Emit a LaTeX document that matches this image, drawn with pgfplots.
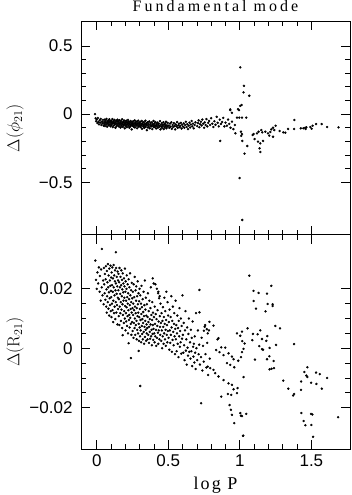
\documentclass[border=0pt]{standalone}
\usepackage{pgfplots}
\pgfplotsset{compat=1.18}
\usepackage{pgfplotstable}
\usepackage[no-math]{fontspec}
\setmainfont{Liberation Sans}
\newfontfamily\htitle{Liberation Serif}[LetterSpace=19]
\newfontfamily\hlab{Liberation Serif}[LetterSpace=12]

% top panel: Delta(phi21) against log P
\pgfplotstableread{
x y
-0.012 0.000
-0.008 -0.030
-0.004 -0.052
0.000 -0.040
0.004 -0.065
0.008 -0.028
0.012 -0.058
0.016 -0.075
0.020 -0.045
0.024 -0.062
0.028 -0.035
0.032 -0.080
0.036 -0.055
0.040 -0.068
0.044 -0.042
0.048 -0.085
0.051 -0.058
0.053 -0.072
0.056 -0.040
0.058 -0.088
0.061 -0.062
0.063 -0.050
0.066 -0.078
0.068 -0.035
0.071 -0.066
0.073 -0.092
0.076 -0.055
0.078 -0.070
0.081 -0.045
0.083 -0.082
0.086 -0.060
0.088 -0.038
0.091 -0.075
0.093 -0.052
0.096 -0.090
0.098 -0.064
0.101 -0.048
0.103 -0.080
0.105 -0.058
0.108 -0.070
0.110 -0.036
0.112 -0.095
0.115 -0.062
0.117 -0.052
0.119 -0.084
0.122 -0.068
0.124 -0.042
0.126 -0.076
0.129 -0.058
0.131 -0.100
0.133 -0.064
0.136 -0.048
0.138 -0.088
0.140 -0.072
0.143 -0.055
0.145 -0.040
0.147 -0.080
0.150 -0.066
0.152 -0.052
0.154 -0.090
0.156 -0.070
0.159 -0.044
0.161 -0.078
0.163 -0.060
0.166 -0.098
0.168 -0.066
0.170 -0.050
0.173 -0.084
0.175 -0.072
0.177 -0.038
0.180 -0.062
0.182 -0.094
0.184 -0.076
0.187 -0.056
0.189 -0.082
0.191 -0.046
0.194 -0.068
0.196 -0.104
0.198 -0.074
0.200 -0.058
0.202 -0.088
0.204 -0.064
0.207 -0.048
0.209 -0.078
0.211 -0.096
0.214 -0.060
0.216 -0.072
0.218 -0.042
0.221 -0.086
0.223 -0.068
0.225 -0.054
0.228 -0.100
0.230 -0.076
0.232 -0.062
0.235 -0.090
0.237 -0.050
0.239 -0.080
0.242 -0.070
0.244 -0.112
0.246 -0.058
0.248 -0.084
0.250 -0.066
0.252 -0.074
0.255 -0.052
0.257 -0.092
0.260 -0.066
0.262 -0.080
0.265 -0.046
0.267 -0.098
0.270 -0.070
0.272 -0.060
0.275 -0.086
0.277 -0.076
0.280 -0.054
0.282 -0.104
0.285 -0.068
0.287 -0.082
0.290 -0.048
0.292 -0.092
0.295 -0.072
0.297 -0.062
0.300 -0.088
0.302 -0.078
0.305 -0.056
0.307 -0.096
0.310 -0.070
0.312 -0.084
0.315 -0.050
0.317 -0.108
0.320 -0.074
0.322 -0.064
0.325 -0.090
0.327 -0.080
0.330 -0.058
0.332 -0.100
0.335 -0.072
0.337 -0.086
0.340 -0.048
0.342 -0.094
0.345 -0.076
0.347 -0.066
0.350 -0.118
0.352 -0.082
0.355 -0.060
0.358 -0.098
0.361 -0.072
0.364 -0.088
0.367 -0.054
0.370 -0.104
0.373 -0.078
0.376 -0.066
0.379 -0.092
0.382 -0.084
0.385 -0.060
0.388 -0.110
0.391 -0.074
0.394 -0.088
0.397 -0.050
0.399 -0.096
0.400 -0.080
0.403 -0.068
0.406 -0.094
0.409 -0.058
0.412 -0.084
0.415 -0.106
0.418 -0.074
0.421 -0.090
0.424 -0.062
0.427 -0.100
0.430 -0.080
0.433 -0.070
0.436 -0.094
0.439 -0.086
0.442 -0.052
0.445 -0.112
0.448 -0.078
0.451 -0.092
0.454 -0.066
0.457 -0.102
0.460 -0.080
0.463 -0.088
0.466 -0.060
0.469 -0.110
0.472 -0.076
0.475 -0.096
0.478 -0.070
0.481 -0.086
0.484 -0.056
0.487 -0.104
0.490 -0.082
0.493 -0.092
0.496 -0.064
0.503 -0.084
0.507 -0.100
0.512 -0.070
0.516 -0.092
0.521 -0.060
0.525 -0.108
0.530 -0.080
0.534 -0.094
0.539 -0.066
0.543 -0.088
0.548 -0.112
0.552 -0.076
0.557 -0.090
0.561 -0.058
0.566 -0.100
0.570 -0.082
0.575 -0.070
0.579 -0.096
0.584 -0.086
0.588 -0.064
0.593 -0.106
0.597 -0.078
0.603 -0.092
0.608 -0.068
0.613 -0.100
0.618 -0.080
0.623 -0.056
0.628 -0.094
0.633 -0.074
0.638 -0.110
0.643 -0.084
0.648 -0.062
0.653 -0.098
0.658 -0.076
0.663 -0.050
0.668 -0.090
0.673 -0.070
0.678 -0.104
0.684 -0.080
0.690 -0.060
0.702 -0.088
0.707 -0.066
0.712 -0.046
0.717 -0.096
0.722 -0.074
0.728 -0.056
0.733 -0.084
0.738 -0.040
0.744 -0.070
0.750 -0.100
0.755 -0.060
0.761 -0.080
0.767 -0.036
0.773 -0.090
0.779 -0.064
0.785 -0.050
0.792 -0.080
0.800 -0.030
0.808 -0.070
0.815 -0.095
0.822 -0.052
0.830 -0.078
0.838 -0.020
0.845 -0.064
0.853 -0.090
0.860 -0.040
0.868 -0.072
0.876 -0.058
0.884 -0.028
0.892 -0.090
0.900 -0.062
0.910 -0.085
0.918 -0.040
0.926 -0.072
0.935 -0.100
0.945 -0.055
0.955 -0.110
0.965 -0.080
0.863 -0.197
0.933 0.035
0.945 0.010
0.933 0.030
0.969 -0.141
1.010 -0.160
0.987 0.037
0.994 0.030
1.003 0.343
1.029 0.208
1.026 0.160
1.066 0.135
1.012 0.067
1.003 0.060
0.980 -0.026
0.996 -0.026
1.015 -0.026
1.045 -0.026
1.008 -0.129
1.015 -0.146
1.017 -0.197
1.052 -0.234
1.033 -0.290
0.998 -0.469
1.017 -0.777
1.089 -0.153
1.103 -0.183
1.096 -0.146
1.120 -0.141
1.131 -0.129
1.150 -0.117
1.157 -0.134
1.178 -0.129
1.197 -0.141
1.213 -0.131
1.206 -0.158
1.220 -0.112
1.232 -0.100
1.241 -0.117
1.250 -0.085
1.232 -0.166
1.127 -0.202
1.143 -0.215
1.162 -0.197
1.138 -0.251
1.143 -0.278
1.278 -0.124
1.304 -0.134
1.318 -0.136
1.337 -0.109
1.381 -0.043
1.379 -0.109
1.426 -0.104
1.444 -0.104
1.456 -0.100
1.460 -0.109
1.465 -0.097
1.493 -0.095
1.502 -0.107
1.509 -0.085
1.533 -0.073
1.572 -0.073
1.610 -0.095
1.690 -0.097
}\phidata

% bottom panel: Delta(R21) against log P
\pgfplotstableread{
x y
-0.010 0.0295
-0.005 0.0230
0.000 0.0200
0.005 0.0255
0.010 0.0218
0.015 0.0272
0.020 0.0190
0.022 0.0243
0.028 0.0160
0.030 0.0265
0.035 0.0205
0.036 0.0334
0.040 0.0178
0.045 0.0228
0.048 0.0148
0.050 0.0270
0.052 0.0215
0.055 0.0185
0.057 0.0250
0.060 0.0163
0.062 0.0232
0.064 0.0276
0.066 0.0140
0.068 0.0198
0.070 0.0120
0.071 0.0260
0.073 0.0175
0.075 0.0222
0.077 0.0155
0.078 0.0283
0.080 0.0205
0.082 0.0133
0.083 0.0245
0.085 0.0188
0.087 0.0110
0.088 0.0268
0.090 0.0168
0.092 0.0228
0.093 0.0145
0.095 0.0210
0.096 0.0278
0.098 0.0125
0.099 0.0193
0.100 0.0238
0.101 0.0172
0.103 0.0105
0.104 0.0255
0.106 0.0150
0.107 0.0212
0.109 0.0272
0.110 0.0128
0.112 0.0190
0.113 0.0235
0.115 0.0088
0.116 0.0160
0.118 0.0280
0.119 0.0205
0.121 0.0118
0.122 0.0245
0.124 0.0178
0.125 0.0140
0.127 0.0225
0.128 0.0262
0.130 0.0098
0.131 0.0195
0.133 0.0155
0.134 0.0323
0.134 0.0218
0.136 0.0270
0.137 0.0120
0.139 0.0183
0.140 0.0240
0.142 0.0145
0.143 0.0208
0.145 0.0080
0.146 0.0258
0.148 0.0170
0.149 0.0228
0.150 0.0132
0.151 0.0195
0.152 0.0250
0.154 0.0108
0.155 0.0165
0.157 0.0222
0.158 0.0078
0.159 0.0270
0.161 0.0140
0.162 0.0205
0.164 0.0183
0.165 0.0118
0.166 0.0240
0.168 0.0155
0.169 0.0092
0.171 0.0212
0.172 0.0262
0.173 0.0130
0.175 0.0175
0.176 0.0230
0.178 0.0068
0.179 0.0198
0.180 0.0148
0.181 0.0044
0.182 0.0252
0.183 0.0112
0.185 0.0188
0.186 0.0218
0.187 0.0160
0.189 0.0085
0.190 0.0235
0.192 0.0125
0.193 0.0170
0.194 0.0208
0.196 0.0100
0.197 0.0268
0.199 0.0142
0.200 0.0190
0.201 0.0060
0.202 0.0225
0.204 0.0118
0.205 0.0160
0.206 0.0090
0.208 0.0200
0.209 0.0138
0.210 0.0245
0.212 0.0075
0.213 0.0172
0.215 0.0108
0.216 0.0215
0.217 0.0150
0.219 0.0050
0.220 0.0185
0.221 0.0128
0.223 0.0017
0.223 0.0232
0.224 0.0095
0.226 0.0165
0.227 0.0112
0.228 0.0205
0.230 0.0070
0.231 0.0145
0.233 0.0252
0.234 0.0102
0.235 0.0178
0.237 0.0132
0.238 0.0082
0.239 -0.0033
0.240 0.0195
0.241 0.0155
0.242 0.0045
0.244 0.0120
0.245 0.0220
0.247 0.0088
0.248 0.0168
0.250 0.0135
0.251 0.0058
0.253 0.0190
0.254 0.0112
0.255 0.0150
0.257 0.0035
0.258 0.0215
0.260 0.0085
0.261 0.0128
0.262 0.0172
0.264 0.0068
0.265 0.0240
0.266 0.0100
0.268 0.0140
0.269 0.0045
0.271 0.0195
0.272 0.0118
0.273 0.0078
0.275 0.0160
0.276 0.0208
0.278 0.0092
0.279 0.0030
0.280 0.0135
0.282 0.0175
0.283 0.0062
0.285 0.0108
0.286 0.0225
0.287 0.0148
0.289 0.0050
0.290 0.0120
0.292 0.0185
0.293 -0.0009
0.293 0.0082
0.295 0.0025
0.296 0.0158
0.297 0.0105
0.299 0.0200
0.300 0.0070
0.301 0.0132
0.303 0.0040
0.304 -0.0127
0.304 0.0178
0.306 0.0095
0.307 0.0060
0.309 0.0150
0.310 0.0020
0.312 0.0115
0.313 0.0210
0.315 0.0075
0.316 0.0138
0.318 0.0048
0.319 0.0098
0.321 0.0165
0.322 0.0030
0.324 0.0085
0.325 0.0122
0.327 0.0190
0.328 0.0055
0.330 0.0108
0.331 0.0015
0.333 0.0145
0.334 0.0072
0.336 0.0228
0.337 0.0038
0.339 0.0092
0.340 0.0130
0.342 0.0062
0.343 0.0170
0.345 0.0025
0.346 0.0110
0.348 0.0080
0.349 0.0050
0.351 0.0148
0.353 0.0068
0.355 0.0030
0.356 0.0105
0.358 0.0185
0.360 0.0045
0.361 0.0088
0.363 0.0125
0.365 0.0018
0.366 0.0072
0.368 0.0160
0.370 0.0055
0.371 0.0098
0.373 0.0032
0.375 0.0135
0.376 0.0080
0.378 0.0205
0.380 0.0040
0.382 0.0112
0.383 0.0062
0.385 0.0010
0.387 0.0095
0.388 0.0155
0.390 0.0048
0.391 0.0235
0.392 0.0078
0.393 0.0120
0.395 0.0028
0.397 0.0065
0.398 0.0218
0.400 0.0105
0.402 0.0050
0.404 0.0020
0.405 0.0140
0.407 0.0082
0.409 0.0040
0.410 0.0215
0.412 0.0115
0.414 0.0062
0.416 0.0008
0.418 0.0098
0.420 0.0200
0.421 0.0035
0.423 0.0075
0.425 0.0128
0.427 0.0052
0.429 0.0185
0.431 0.0190
0.430 0.0015
0.432 0.0090
0.434 0.0060
0.436 0.0168
0.438 0.0030
0.440 0.0175
0.441 0.0108
0.442 0.0072
0.444 0.0045
0.446 0.0150
0.448 0.0085
0.451 0.0025
0.453 0.0118
0.455 0.0060
0.457 0.0000
0.459 0.0092
0.461 0.0040
0.463 0.0138
0.465 0.0072
0.467 0.0015
0.469 0.0105
0.471 0.0050
0.473 0.0170
0.475 0.0082
0.477 0.0030
0.479 0.0125
0.481 0.0062
0.483 0.0008
0.485 0.0095
0.487 0.0190
0.489 0.0045
0.491 0.0078
0.493 0.0020
0.495 0.0155
0.497 0.0058
0.499 0.0110
0.502 0.0035
0.504 0.0088
0.507 -0.0005
0.509 0.0130
0.511 0.0060
0.514 0.0018
0.516 0.0105
0.518 0.0045
0.521 0.0175
0.523 0.0070
0.525 -0.0012
0.528 0.0092
0.530 0.0028
0.532 0.0140
0.535 0.0055
0.537 0.0010
0.540 0.0082
0.542 0.0118
0.544 0.0040
0.547 -0.0020
0.549 0.0065
0.551 0.0160
0.553 0.0030
0.556 0.0078
0.558 -0.0010
0.561 0.0050
0.563 0.0110
0.566 0.0015
0.568 0.0068
0.571 -0.0030
0.573 0.0092
0.576 0.0040
0.578 0.0135
0.581 0.0005
0.583 0.0058
0.586 0.0020
0.588 0.0100
0.591 -0.0018
0.593 0.0075
0.596 0.0032
0.599 0.0178
0.602 0.0045
0.605 -0.0015
0.608 0.0085
0.611 0.0010
0.614 -0.0040
0.617 0.0060
0.620 0.0125
0.623 -0.0008
0.626 0.0030
0.629 -0.0055
0.632 0.0070
0.635 0.0002
0.638 -0.0025
0.641 0.0048
0.644 0.0100
0.647 -0.0012
0.652 0.0020
0.655 -0.0035
0.658 0.0062
0.661 -0.0010
0.664 0.0035
0.667 -0.0060
0.670 0.0090
0.673 0.0005
0.676 -0.0028
0.679 0.0015
0.682 -0.0048
0.685 0.0040
0.688 -0.0015
0.691 -0.0070
0.694 0.0118
0.697 0.0000
0.702 -0.0040
0.707 0.0060
0.712 -0.0020
0.716 0.0012
0.718 0.0196
0.718 0.0121
0.721 -0.0055
0.729 -0.0030
0.730 -0.0185
0.733 0.0035
0.738 -0.0075
0.743 0.0008
0.748 -0.0045
0.749 0.0059
0.754 0.0072
0.758 0.0078
0.760 -0.0020
0.766 -0.0065
0.769 0.0064
0.772 0.0018
0.776 0.0050
0.776 -0.0062
0.779 -0.0090
0.784 0.0060
0.788 0.0089
0.790 -0.0035
0.793 -0.0067
0.816 0.0076
0.816 -0.0073
0.828 -0.0084
0.835 -0.0006
0.844 0.0030
0.851 0.0034
0.851 -0.0095
0.858 -0.0013
0.870 0.0003
0.870 -0.0163
0.886 -0.0023
0.886 -0.0107
0.898 0.0002
0.910 -0.0050
0.917 -0.0154
0.921 -0.0017
0.921 -0.0118
0.928 -0.0191
0.933 -0.0056
0.938 -0.0207
0.940 -0.0157
0.945 -0.0028
0.945 -0.0123
0.945 -0.0224
0.956 -0.0037
0.956 -0.0138
0.961 -0.0064
0.961 -0.0252
0.980 -0.0151
0.980 0.0050
0.984 -0.0134
0.989 -0.0042
1.003 0.0042
1.003 -0.0218
1.008 -0.0030
1.008 -0.0227
1.015 0.0056
1.015 -0.0013
1.015 -0.0228
1.017 0.0024
1.022 -0.0295
1.024 -0.0294
1.026 -0.0002
1.026 -0.0097
1.033 0.0016
1.045 -0.0221
1.054 0.0067
1.066 0.0244
1.087 0.0027
1.092 0.0048
1.096 0.0193
1.096 0.0159
1.106 -0.0038
1.113 0.0133
1.124 0.0047
1.131 0.0186
1.136 0.0007
1.143 0.0060
1.155 0.0031
1.155 -0.0003
1.162 -0.0005
1.180 0.0124
1.185 0.0025
1.190 0.0184
1.190 -0.0037
1.192 0.0041
1.194 0.0149
1.206 -0.0027
1.208 0.0001
1.208 -0.0071
1.220 0.0210
1.222 -0.0069
1.229 0.0148
1.229 0.0142
1.236 -0.0043
1.239 -0.0067
1.248 0.0075
1.253 0.0011
1.281 0.0067
1.304 -0.0109
1.339 -0.0136
1.372 -0.0159
1.379 0.0014
1.379 -0.0154
1.428 -0.0140
1.428 -0.0112
1.430 -0.0218
1.446 -0.0245
1.451 -0.0080
1.458 -0.0259
1.465 -0.0092
1.472 -0.0097
1.472 -0.0064
1.498 -0.0116
1.498 -0.0221
1.500 -0.0258
1.507 -0.0223
1.512 -0.0298
1.533 -0.0082
1.535 -0.0120
1.559 -0.0087
1.573 -0.0136
1.610 -0.0100
1.687 -0.0232
}\rdata

\pgfplotsset{
  panel/.style={
    scale only axis, width=269pt,
    xmin=-0.11, xmax=1.77,
    xtick={0,0.5,1,1.5}, minor x tick num=4,
    tick align=inside,
    scaled y ticks=false, scaled x ticks=false,
    major tick length=9pt, minor tick length=5pt,
    axis line style={line width=0.9pt},
    every tick/.style={black, line width=0.8pt},
    tick label style={font=\fontsize{17}{17}\selectfont},
    /pgf/number format/assume math mode=true,
    yticklabel style={xshift=-5pt},
    xticklabel style={yshift=-2pt},
    every axis y label/.style={at={(axis description cs:-0.245,0.5)},
      rotate=90, anchor=center, font=\fontsize{18}{18}\selectfont},
    every axis x label/.style={at={(axis description cs:0.5,0)},
      anchor=base, yshift=-40.7pt, font=\hlab\fontsize{18}{18}\selectfont},
  },
  dots/.style={only marks, mark=*, mark size=1pt, black},
}

\begin{document}
\begin{tikzpicture}
\useasboundingbox (0,0) rectangle (352pt,495pt);

\begin{axis}[panel, at={(81pt,260.3pt)}, anchor=south west, height=213.2pt,
    ymin=-0.885, ymax=0.68,
    ytick={-0.5,0,0.5}, yticklabels={−0.5,0,0.5}, minor y tick num=4,
    xticklabels={},
    ylabel={$\Delta(\phi_{21})$},
    title={Fundamental mode},
    every axis title/.style={at={(axis description cs:0.5,1)}, anchor=base,
      yshift=9.5pt, font=\htitle\fontsize{16}{16}\selectfont}]
\addplot[dots] table[x=x, y=y] {\phidata};
\end{axis}

\begin{axis}[panel, at={(81pt,45.7pt)}, anchor=south west, height=214.6pt,
    ymin=-0.034, ymax=0.0382,
    ytick={-0.02,0,0.02}, yticklabels={−0.02,0,0.02}, minor y tick num=3,
    xticklabels={0,0.5,1,1.5},
    ylabel={$\Delta(\mathrm{R}_{21})$},
    xlabel={log P}]
\addplot[dots] table[x=x, y=y] {\rdata};
\end{axis}
\end{tikzpicture}
\end{document}
